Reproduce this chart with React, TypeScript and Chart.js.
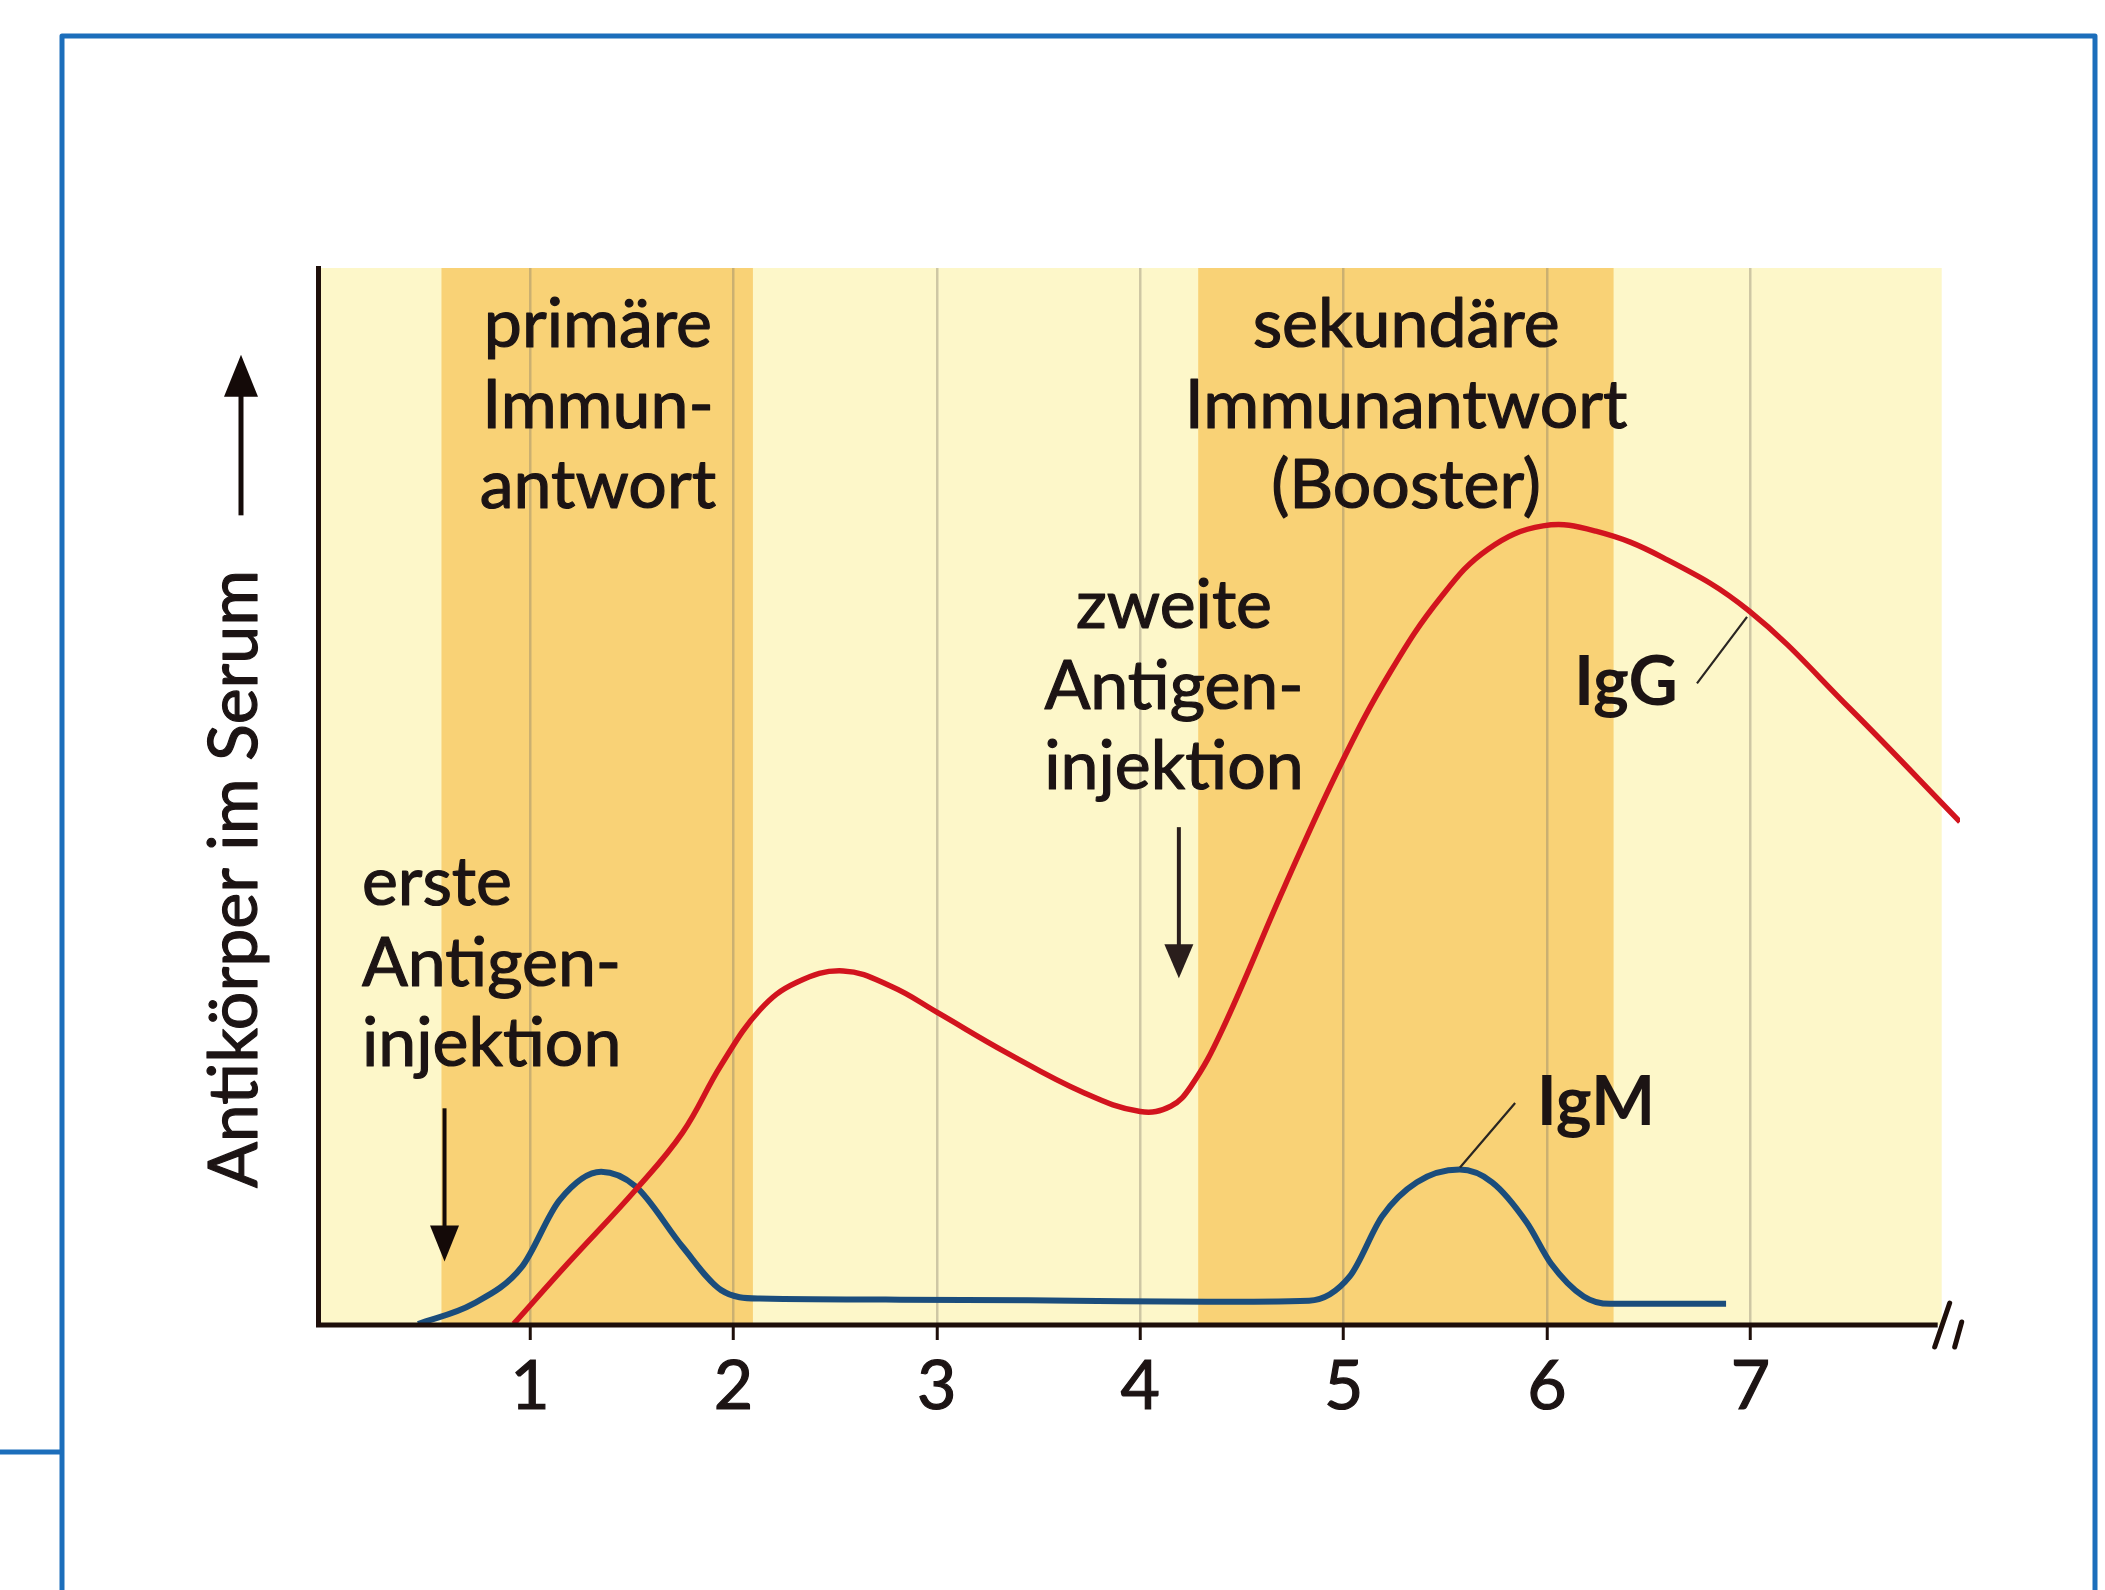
import React, { useEffect, useRef } from "react";
import { Chart, registerables } from "chart.js";

Chart.register(...registerables);

// ---- data ----
const tickValues = [1, 2, 3, 4, 5, 6, 7];
const tickLabels = ["1", "2", "3", "4", "5", "6", "7"];

const igGTime = [0.92, 1.185, 1.52, 1.75, 1.94, 2.13, 2.31, 2.54, 2.78, 3.0, 3.34, 3.72, 4.0, 4.15, 4.25, 4.4, 4.71, 4.99, 5.23, 5.48, 5.71, 5.98, 6.24, 6.57, 6.99, 7.49, 8.03];
const igGLevel = [0.1, 5.8, 12.8, 18.2, 24.6, 29.8, 32.4, 33.5, 32.0, 29.6, 25.8, 22.0, 20.2, 20.7, 22.6, 27.8, 41.5, 53.2, 61.8, 68.9, 73.4, 75.6, 75.1, 72.6, 67.6, 58.3, 47.6];

const igMTime = [0.45, 0.72, 0.96, 1.145, 1.35, 1.52, 1.75, 1.94, 2.13, 2.82, 3.67, 4.33, 4.83, 5.03, 5.19, 5.36, 5.57, 5.73, 5.9, 6.02, 6.18, 6.31, 6.88];
const igMLevel = [0.1, 2.0, 5.5, 11.8, 14.5, 13.1, 7.4, 3.3, 2.5, 2.4, 2.3, 2.2, 2.3, 4.6, 10.3, 13.5, 14.7, 13.5, 9.7, 5.8, 2.7, 2.0, 2.0];

const bandStart = [0.565, 4.285];
const bandEnd = [2.096, 6.327];
const backgroundEnd = 7.94;

const primaryLabel = ["primäre", "Immun-", "antwort"];
const secondaryLabel = ["sekundäre", "Immunantwort", "(Booster)"];
const firstInjectionLabel = ["erste", "Antigen-", "injektion"];
const secondInjectionLabel = ["zweite", "Antigen-", "injektion"];
const yTitle = "Antikörper im Serum";

const FONT = "Lato, 'Open Sans', sans-serif";
const TEXT = "#1c1414";

function drawArrow(ctx: CanvasRenderingContext2D, x: number, y0: number, tip: number, w: number, h: number, lw: number, color: string) {
  const dir = tip > y0 ? 1 : -1;
  ctx.save();
  ctx.strokeStyle = color;
  ctx.fillStyle = color;
  ctx.lineWidth = lw;
  ctx.beginPath();
  ctx.moveTo(x, y0);
  ctx.lineTo(x, tip - dir * h * 0.8);
  ctx.stroke();
  ctx.beginPath();
  ctx.moveTo(x, tip);
  ctx.lineTo(x - w / 2, tip - dir * h);
  ctx.lineTo(x + w / 2, tip - dir * h);
  ctx.closePath();
  ctx.fill();
  ctx.restore();
}

function heavyText(ctx: CanvasRenderingContext2D, s: string, x: number, y: number) {
  ctx.fillText(s, x, y);
  ctx.strokeText(s, x, y);
}

const decorPlugin = {
  id: "decor",
  beforeDraw(chart: any) {
    const { ctx, chartArea: a, scales } = chart;
    const x = scales.x;
    ctx.save();
    ctx.fillStyle = "#fdf7c9";
    ctx.fillRect(a.left, a.top, x.getPixelForValue(backgroundEnd) - a.left, a.bottom - a.top);
    ctx.fillStyle = "#f9d276";
    bandStart.forEach((s, i) => {
      const l = x.getPixelForValue(s);
      const r = x.getPixelForValue(bandEnd[i]);
      ctx.fillRect(l, a.top, r - l, a.bottom - a.top);
    });
    ctx.restore();
  },
  afterDraw(chart: any) {
    const { ctx, chartArea: a, scales } = chart;
    const X = (v: number) => scales.x.getPixelForValue(v);
    const Y = (v: number) => scales.y.getPixelForValue(v);
    const lh = 80.5;
    ctx.save();

    // x axis line with break marks
    ctx.strokeStyle = "#1e0f0a";
    ctx.lineWidth = 5;
    ctx.beginPath();
    ctx.moveTo(a.left - 2, a.bottom);
    ctx.lineTo(X(backgroundEnd) - 4, a.bottom);
    ctx.stroke();
    ctx.lineCap = "round";
    ctx.beginPath();
    ctx.moveTo(X(backgroundEnd) - 7, a.bottom + 22);
    ctx.lineTo(X(backgroundEnd) + 8, a.bottom - 22);
    ctx.stroke();
    ctx.beginPath();
    ctx.moveTo(X(backgroundEnd) + 13, a.bottom + 22);
    ctx.lineTo(X(backgroundEnd) + 20, a.bottom - 3);
    ctx.stroke();
    ctx.lineCap = "butt";

    // texts
    ctx.fillStyle = TEXT;
    ctx.strokeStyle = TEXT;
    ctx.lineWidth = 1.2;
    ctx.lineJoin = "round";
    ctx.textBaseline = "alphabetic";
    ctx.font = `68px ${FONT}`;
    ctx.textAlign = "center";
    primaryLabel.forEach((s, i) => heavyText(ctx, s, X(1.334), Y(92.5) + i * lh));
    secondaryLabel.forEach((s, i) => heavyText(ctx, s, X(5.307), Y(92.5) + i * lh));
    secondInjectionLabel.forEach((s, i) => heavyText(ctx, s, X(4.166), Y(65.9) + i * lh));
    ctx.textAlign = "left";
    firstInjectionLabel.forEach((s, i) => heavyText(ctx, s, X(0.174), Y(39.7) + i * lh));

    ctx.font = `bold 68px ${FONT}`;
    ctx.textAlign = "center";
    ctx.fillText("IgG", X(6.388), Y(58.7));
    ctx.fillText("IgM", X(6.241), Y(18.9));

    // leader lines
    ctx.strokeStyle = "#2a2622";
    ctx.lineWidth = 2.2;
    ctx.beginPath();
    ctx.moveTo(X(6.737), Y(60.7));
    ctx.lineTo(X(6.983), Y(67.0));
    ctx.moveTo(X(5.843), Y(21.0));
    ctx.lineTo(X(5.572), Y(14.9));
    ctx.stroke();

    // injection arrows
    drawArrow(ctx, X(0.58), Y(20.5), Y(6.0), 29, 36, 4, "#140a08");
    drawArrow(ctx, X(4.19), Y(47.1), Y(32.8), 29, 34, 4, "#2a1e1c");

    // y axis title with arrow
    ctx.save();
    ctx.translate(a.left - 61, Y(42.2));
    ctx.rotate(-Math.PI / 2);
    ctx.font = `68px ${FONT}`;
    ctx.textAlign = "center";
    ctx.fillStyle = TEXT;
    ctx.strokeStyle = TEXT;
    ctx.lineWidth = 1.2;
    heavyText(ctx, yTitle, 0, 0);
    ctx.restore();
    drawArrow(ctx, a.left - 77, Y(76.6), Y(91.8), 34, 42, 5, "#140a08");

    // blue frame
    ctx.strokeStyle = "#1c6ebb";
    ctx.lineWidth = 5;
    ctx.beginPath();
    ctx.moveTo(62, 1600);
    ctx.lineTo(62, 36);
    ctx.lineTo(2095, 36);
    ctx.lineTo(2095, 1600);
    ctx.moveTo(0, 1452);
    ctx.lineTo(62, 1452);
    ctx.stroke();

    ctx.restore();
  },
};

export default function App() {
  const ref = useRef<HTMLCanvasElement | null>(null);

  useEffect(() => {
    if (!ref.current) return;
    const chart = new Chart(ref.current, {
      type: "line",
      data: {
        datasets: [
          {
            label: "IgG",
            data: igGTime.map((t, i) => ({ x: t, y: igGLevel[i] })),
            borderColor: "#d2141e",
            borderWidth: 5.5,
            pointRadius: 0,
            tension: 0.4,
            fill: false,
          },
          {
            label: "IgM",
            data: igMTime.map((t, i) => ({ x: t, y: igMLevel[i] })),
            borderColor: "#1b4d7c",
            borderWidth: 6,
            pointRadius: 0,
            cubicInterpolationMode: "monotone",
            fill: false,
          },
        ],
      },
      options: {
        animation: false,
        responsive: true,
        maintainAspectRatio: false,
        devicePixelRatio: 1,
        layout: { padding: { left: 0, top: 268, right: 145, bottom: 0 } },
        plugins: { legend: { display: false }, tooltip: { enabled: false }, title: { display: false } },
        scales: {
          x: {
            type: "linear",
            min: -0.042,
            max: 8.03,
            afterFit: (s: any) => {
              s.height = 265;
            },
            afterBuildTicks: (s: any) => {
              s.ticks = tickValues.map((v) => ({ value: v }));
            },
            ticks: {
              autoSkip: false,
              maxRotation: 0,
              padding: 6,
              color: TEXT,
              textStrokeColor: TEXT,
              textStrokeWidth: 1.2,
              font: { family: FONT, size: 68, lineHeight: 1.2 },
              callback: (v: any) => {
                const i = tickValues.indexOf(Number(v));
                return i >= 0 ? tickLabels[i] : "";
              },
            },
            grid: {
              display: true,
              color: "rgba(130,120,105,0.38)",
              lineWidth: 2.5,
              tickColor: "#1e0f0a",
              tickWidth: 3,
              tickLength: 15,
            },
            border: { display: false },
          },
          y: {
            type: "linear",
            min: 0,
            max: 100,
            afterFit: (s: any) => {
              s.width = 318;
            },
            ticks: { display: false },
            grid: { display: false },
            border: { display: true, color: "#1e0f0a", width: 5 },
          },
        },
      },
      plugins: [decorPlugin],
    } as any);
    return () => chart.destroy();
  }, []);

  return (
    <div style={{ position: "fixed", left: 0, top: 0, width: 2105, height: 1590, background: "#ffffff" }}>
      <canvas ref={ref} />
    </div>
  );
}
